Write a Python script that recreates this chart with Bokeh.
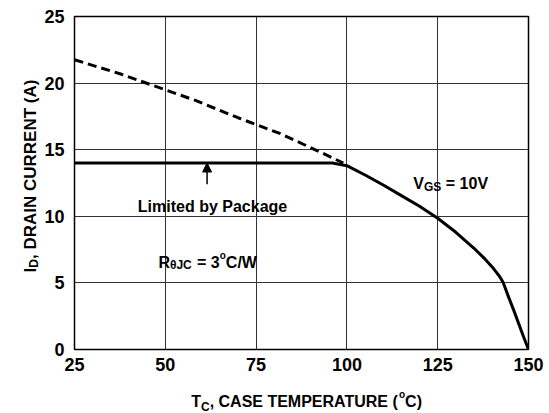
import math
from bokeh.plotting import figure
from bokeh.layouts import column, row
from bokeh.models import Range1d, Label, Arrow, NormalHead, FixedTicker
from bokeh.embed import file_html
from bokeh.resources import INLINE

# ---- data ----
x_ticks = [25, 50, 75, 100, 125, 150]
y_ticks = [0, 5, 10, 15, 20, 25]

# dashed curve (silicon limit, no package limit)
dash_T = [25, 37.5, 50, 58.3, 70, 81.7, 93.6, 99]
dash_I = [21.75, 20.7, 19.5, 18.7, 17.4, 16.2, 14.7, 14.0]

# solid curve (package limited, then derating)
solid_T = [25, 96, 100, 105, 110, 115, 120, 125, 130, 135, 138, 140, 142, 143,
           144.5, 146, 148.3, 150]
solid_I = [14, 14, 13.8, 13.1, 12.35, 11.55, 10.75, 9.85, 8.8, 7.6, 6.8, 6.2, 5.5, 5.05,
           3.95, 2.9, 1.2, 0]

FONT = "Liberation Sans"

# Helvetica-Bold advance widths (per 1000 em)
W = {' ': 278, '(': 333, ')': 333, ',': 278, '/': 278, '=': 584, 'o': 611,
     'A': 722, 'C': 722, 'D': 722, 'E': 667, 'G': 778, 'I': 278, 'J': 556,
     'M': 833, 'N': 722, 'P': 667, 'R': 722, 'S': 667, 'T': 611, 'U': 722,
     'V': 667, 'W': 944, 'θ': 611}
for d in "0123456789":
    W[d] = 556


def tw(s, size):
    return sum(W.get(c, 600) for c in s) * size / 1000.0


def rich(p, x, y, pieces, xo=0.0, yo=0.0, vertical=False):
    off = 0.0
    for text, size, shift in pieces:
        lead = len(text) - len(text.lstrip(" "))
        off += lead * W[' '] * size / 1000.0
        body = text.strip(" ")
        if vertical:
            lab = Label(x=x, y=y, x_offset=xo - shift, y_offset=yo + off,
                        angle=math.pi / 2, text=body)
        else:
            lab = Label(x=x, y=y, x_offset=xo + off, y_offset=yo + shift, text=body)
        lab.text_font = FONT
        lab.text_font_style = "bold"
        lab.text_font_size = f"{size}px"
        lab.text_baseline = "alphabetic"
        lab.text_align = "left"
        lab.text_color = "black"
        p.add_layout(lab)
        off += tw(text.lstrip(" "), size)


def blank(w, h):
    f = figure(width=w, height=h, x_range=Range1d(0, w), y_range=Range1d(0, h),
               output_backend="svg", toolbar_location=None, title=None,
               x_axis_location=None, y_axis_location=None,
               min_border=0, min_border_left=0, min_border_right=0,
               min_border_top=0, min_border_bottom=0)
    f.outline_line_color = None
    f.xgrid.visible = False
    f.ygrid.visible = False
    f.background_fill_color = "white"
    f.border_fill_color = "white"
    return f


p = figure(width=509, height=380, x_range=Range1d(25, 150), y_range=Range1d(0, 25),
           output_backend="svg", toolbar_location=None, title=None,
           min_border_left=34, min_border_right=21, min_border_top=16, min_border_bottom=31)
p.background_fill_color = "white"
p.border_fill_color = "white"
p.outline_line_color = "black"
p.outline_line_width = 1.5

p.xaxis.ticker = FixedTicker(ticks=x_ticks)
p.yaxis.ticker = FixedTicker(ticks=y_ticks)
for ax in (p.xaxis, p.yaxis):
    ax.axis_line_color = None
    ax.major_tick_line_color = None
    ax.minor_tick_line_color = None
    ax.major_tick_out = 0
    ax.major_tick_in = 0
    ax.major_label_text_font = FONT
    ax.major_label_text_font_style = "bold"
    ax.major_label_text_font_size = "18px"
    ax.major_label_text_color = "black"
p.xaxis.major_label_standoff = 8
p.yaxis.major_label_standoff = 10

p.xgrid.ticker = FixedTicker(ticks=x_ticks)
p.ygrid.ticker = FixedTicker(ticks=y_ticks)
for g in (p.xgrid, p.ygrid):
    g.grid_line_color = "#333333"
    g.grid_line_width = 1
    g.grid_line_alpha = 1.0

p.line(dash_T, dash_I, line_color="black", line_width=3, line_dash="9 5")
p.line(solid_T, solid_I, line_color="black", line_width=3, line_join="round")

# arrow and annotations
p.add_layout(Arrow(end=NormalHead(size=9, fill_color="black", line_color="black"),
                   x_start=61.5, y_start=12.4, x_end=61.5, y_end=14.0,
                   line_color="black", line_width=1.5))

lim = Label(x=63.0, y=10.74, text="Limited by Package", text_align="center",
            text_baseline="alphabetic", text_font=FONT, text_font_style="bold",
            text_font_size="16px", text_color="black")
p.add_layout(lim)

rich(p, 118.3, 12.44, [("V", 16, 0), ("GS", 12, -3), (" = 10V", 16, 0)])
rich(p, 48.1, 6.55, [("R", 16, 0), ("θJC", 12, -3), (" = 3", 16, 0), ("o", 10, 7), ("C/W", 16, 0)])

# axis titles in their own strips
ytitle = blank(40, 380)
rich(ytitle, 30, 88, [("I", 17, 0), ("D", 12, -3), (", DRAIN CURRENT (A)", 17, 0)], vertical=True)

xtitle = blank(549, 33)
rich(xtitle, 190.7, 12.0, [("T", 16, 0), ("C", 12, -5), (", CASE TEMPERATURE (", 16, 0),
                           ("o", 10, 7), ("C)", 16, 0)])

layout = column(row(ytitle, p, spacing=0), xtitle, spacing=0)

open("out.html", "w").write(file_html(layout, INLINE))
